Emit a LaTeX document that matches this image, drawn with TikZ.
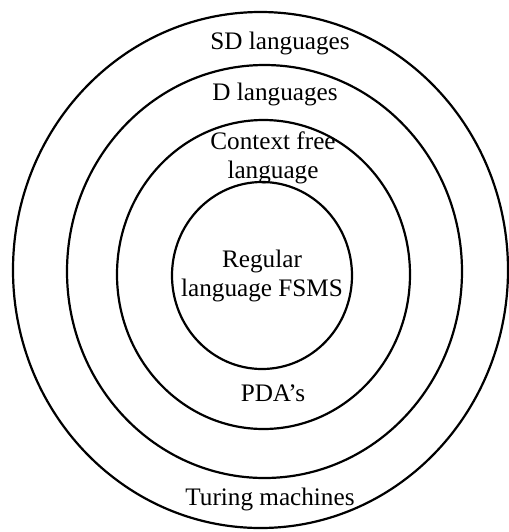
\documentclass[tikz,border=0pt]{standalone}
\usepackage{fontspec}
\setmainfont{Liberation Serif}
\tikzset{
  ring/.style={draw=black,line width=1.1pt},
  lbl/.style={font=\fontsize{12.6}{14.5}\selectfont,align=center,inner sep=0pt}
}

\begin{document}
\begin{tikzpicture}[x=0.5pt,y=-0.5pt]
     \useasboundingbox (0,0) rectangle (509,532);

     \draw[ring] (260.5,270) ellipse [x radius=247.5, y radius=258];
     \draw[ring] (264.5,271.5) ellipse [x radius=197.5, y radius=206.5];
     \draw[ring] (263.5,274.5) ellipse [x radius=146.5, y radius=154.5];
     \draw[ring] (262,275.5) ellipse [x radius=90, y radius=93.5];

     \node[lbl] (sd) at (280,43) {SD languages};
     \node[lbl] (dl) at (275,94) {D languages};
     \node[lbl] (cfl) at (273,158) {Context free\\language};
     \node[lbl] (reg) at (262,276) {Regular\\language FSMS};
     \node[lbl] (pda) at (273,393) {PDA’s};
     \node[lbl] (tm) at (270,499) {Turing machines};
    \end{tikzpicture}
\end{document}
